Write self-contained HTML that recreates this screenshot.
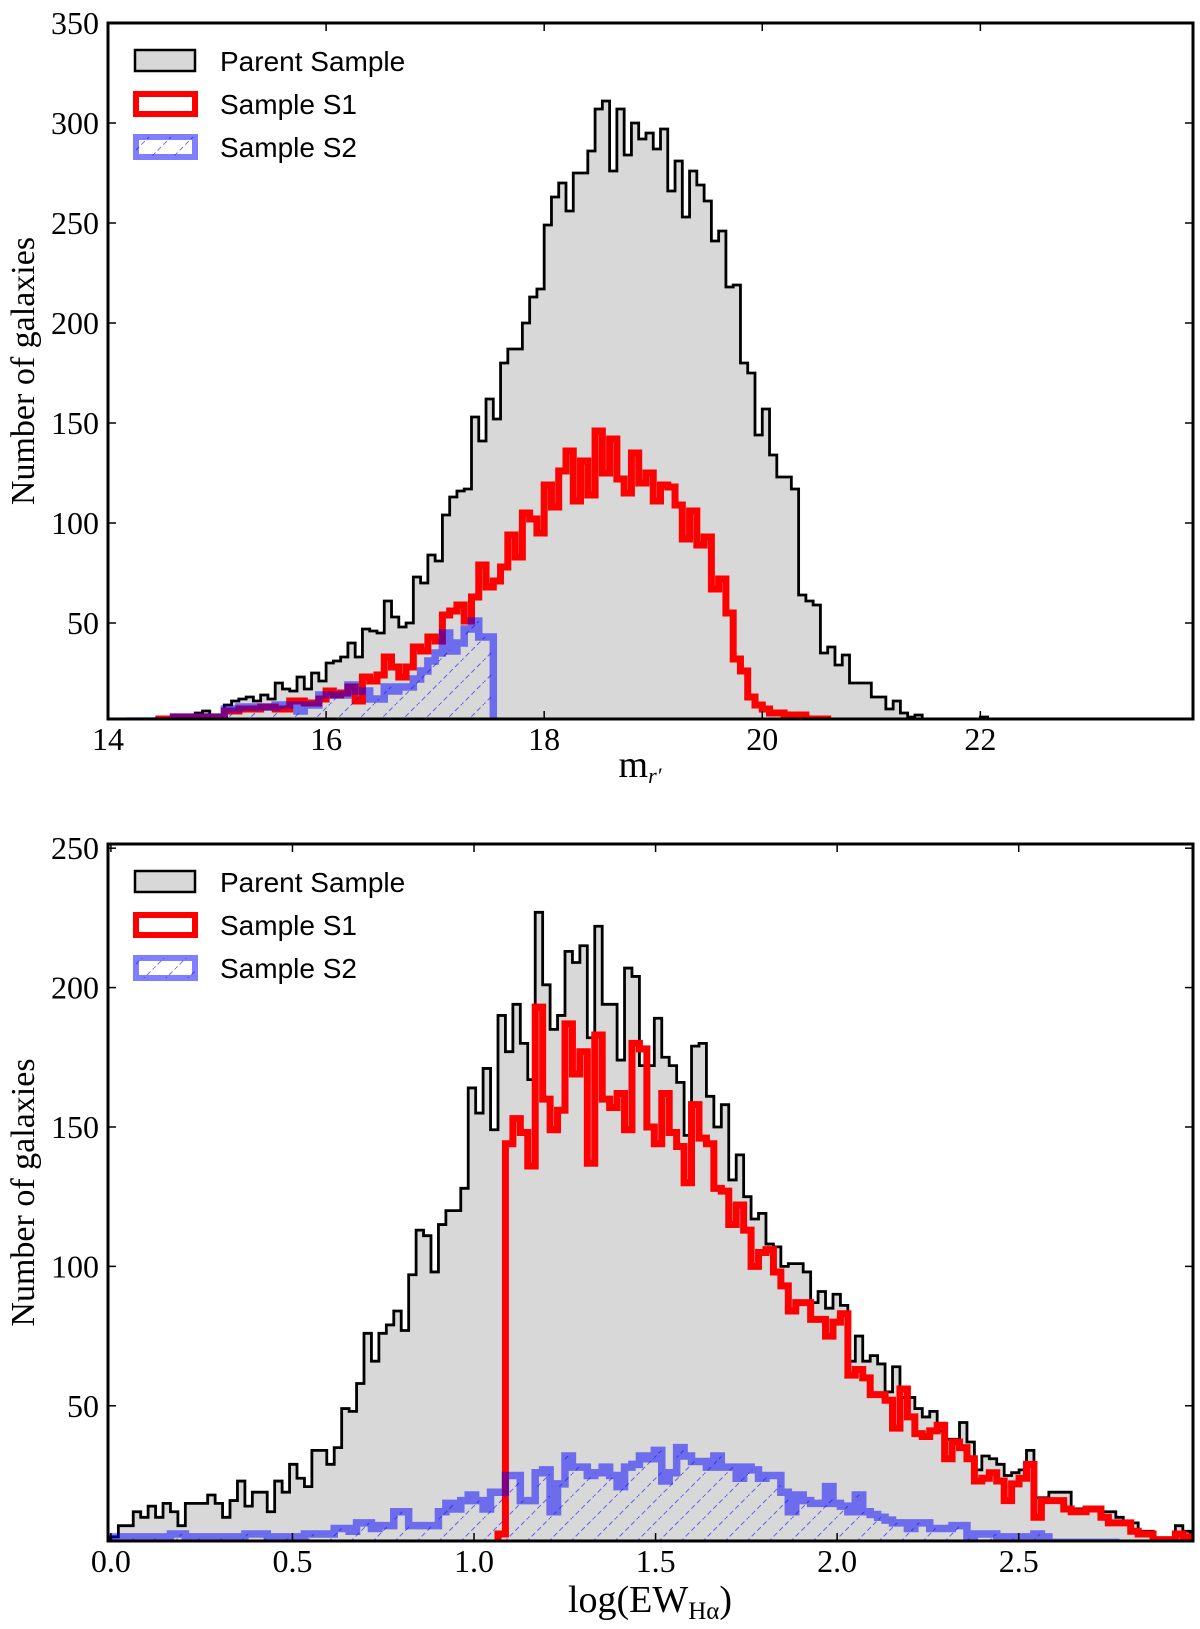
<!DOCTYPE html>
<html><head><meta charset="utf-8">
<style>
html,body{margin:0;padding:0;background:#fff;}
svg{display:block;}
</style></head>
<body>
<svg id="fig" width="1200" height="1629" viewBox="0 0 1200 1629" xmlns="http://www.w3.org/2000/svg">
<defs>
<pattern id="hatch" patternUnits="userSpaceOnUse" width="22" height="22">
<path d="M-2,24 L24,-2" stroke="rgba(0,0,255,0.55)" stroke-width="1" stroke-dasharray="5,3"/>
</pattern>
<clipPath id="clipTop"><rect x="108" y="23" width="1085" height="696"/></clipPath>
<clipPath id="clipBot"><rect x="108" y="844" width="1085" height="697"/></clipPath>
</defs>
<g id="top"></g>
<g id="bot"></g>
</svg>
<script>
// ---------- Top panel data (bins of width 1/15 mag starting at 14.0) ----------
const topBinStart = 14.0;
const topBinWidth = 1/15;
const topParent = [0,0,0,0,0,1,1,2,2,3,3,3,5,6,3,3,9,11,12,13,11,14,12,20,17,16,23,17,25,21,30,31,33,40,33,47,46,45,61,53,48,50,73,70,84,81,104,113,116,117,153,141,162,152,180,187,187,200,213,217,249,263,270,256,275,275,286,307,311,276,307,284,300,292,295,287,297,266,281,253,276,269,261,241,246,218,219,180,175,144,157,134,123,123,117,64,61,59,35,38,29,34,20,20,20,13,13,7,11,5,3,4,2,1,1,0,0,0,0,2,3,1,0,0,0,0,0,0,0,0,0,0,0,2,0];
const topS1 = [0,0,0,0,0,1,1,2,2,3,3,3,3,3,3,3,6,6,7,7,7,8,8,7,7,11,11,10,10,12,16,14,15,18,11,23,21,24,33,28,23,28,38,36,43,41,54,56,59,51,63,79,68,71,78,94,83,105,102,95,119,108,126,136,111,131,114,146,125,142,122,115,135,120,125,111,119,118,109,92,106,89,93,67,72,55,32,26,13,9,7,5,5,4,4,4,2,2,2,0];
const topS2 = [0,0,0,1,1,1,0,1,1,3,3,3,3,3,3,3,7,7,8,8,8,8,8,9,9,9,6,9,9,14,14,14,14,19,16,16,12,12,18,16,18,18,22,26,31,35,45,36,40,47,51,43,43];
const topYTicks = [50,100,150,200,250,300,350];
const topXTicks = [14,16,18,20,22];

// ---------- Bottom panel data (bins of width 0.0205 starting at 0.0) ----------
const botBinStart = 0.0;
const botBinWidth = 0.0205;
const botParent = [3,7,7,12,10,14,10,15,12,7,15,15,15,18,15,10,16,23,14,19,19,12,23,19,29,24,21,34,34,29,35,49,48,58,76,66,76,79,84,77,97,113,111,98,115,120,120,128,164,155,171,149,190,177,194,180,167,227,201,185,190,213,209,215,182,222,194,194,174,207,204,172,172,189,175,172,166,147,179,180,161,150,158,131,140,125,117,119,108,107,100,101,101,98,87,91,85,90,86,66,75,66,68,65,55,64,53,53,49,46,48,41,38,38,44,37,27,32,31,29,25,26,27,34,17,17,19,19,19,13,13,13,13,12,12,10,8,8,5,5,2,2,2,7,5];
const botS1 = [0,0,0,0,0,0,0,0,0,0,0,0,0,0,0,0,0,0,0,0,0,0,0,0,0,0,0,0,0,0,0,0,0,0,0,0,0,0,0,0,0,0,0,0,0,0,0,0,0,0,0,0,4,144,153,148,136,193,160,149,156,187,169,177,137,183,160,157,162,149,180,178,150,144,162,148,143,130,158,146,144,128,127,115,122,113,100,105,106,98,93,84,87,87,81,81,75,80,83,61,63,60,54,54,52,42,56,46,40,39,41,43,31,37,35,31,23,24,26,23,16,22,24,29,10,16,16,16,13,12,12,13,13,10,8,8,8,5,4,4,2,2,2,4,3];
const botS2 = [3,3,3,3,3,3,3,3,4,4,3,3,3,3,3,3,3,3,4,4,4,3,3,3,3,3,4,4,4,4,6,6,5,8,8,6,7,7,12,12,7,7,7,7,12,15,13,16,18,16,13,19,19,25,25,16,16,26,27,12,22,32,28,28,25,26,28,25,21,28,29,32,31,34,23,26,35,32,30,30,28,32,28,28,24,28,27,24,25,25,19,12,18,16,15,15,21,15,14,12,18,12,11,10,9,8,8,6,8,8,6,6,6,7,7,3,4,4,4,3,3,3,3,3,4,3,1,1,1,1,1,1,1,1,1,0,0,0,0,0,0,0,0,0,0];
const botYTicks = [50,100,150,200,250];
const botXTicks = [0.0,0.5,1.0,1.5,2.0,2.5];
const botXTickLabels = ["0.0","0.5","1.0","1.5","2.0","2.5"];

const NS = "http://www.w3.org/2000/svg";
function mk(tag, attrs, parent){
  const e = document.createElementNS(NS, tag);
  for (const k in attrs) e.setAttribute(k, attrs[k]);
  parent.appendChild(e);
  return e;
}
function linScale(d0,d1,r0,r1){ return v => r0 + (v-d0)/(d1-d0)*(r1-r0); }

function stepPath(vals, start, width, xs, ys, ymin){
  let first = -1, last = -1;
  for (let i=0;i<vals.length;i++){ if (vals[i]>0){ if(first<0) first=i; last=i; } }
  if (first<0) return "";
  let d = "M" + xs(start+first*width).toFixed(2) + "," + ys(ymin-5).toFixed(2);
  for (let i=first;i<=last;i++){
    const x0 = xs(start+i*width), x1 = xs(start+(i+1)*width), y = ys(vals[i]);
    d += " L" + x0.toFixed(2) + "," + y.toFixed(2) + " L" + x1.toFixed(2) + "," + y.toFixed(2);
  }
  d += " L" + xs(start+(last+1)*width).toFixed(2) + "," + ys(ymin-5).toFixed(2);
  return d;
}

function panel(g, cfg){
  const L=108, R=1193, T=cfg.top, B=cfg.bottom;
  const xs = linScale(cfg.xmin, cfg.xmax, L, R);
  const ys = linScale(cfg.ymin, cfg.ymax, B, T);
  const plot = mk("g", {"clip-path":"url(#"+cfg.clip+")"}, g);
  
  

  const pd = stepPath(cfg.parent, cfg.bs, cfg.bw, xs, ys, cfg.ymin);
  const pf = mk("path", {d: pd + " Z", fill:"#d8d8d8", stroke:"none"}, plot);
  
  
  const pl = mk("path", {d: pd, fill:"none", stroke:"#000", "stroke-width":"2.8", "stroke-linejoin":"miter"}, plot);
  
  

  const rd = stepPath(cfg.s1, cfg.bs, cfg.bw, xs, ys, cfg.ymin);
  const rl = mk("path", {d: rd, fill:"none", stroke:"#ff0000", "stroke-width":"7"}, plot);
  
  

  const bd = stepPath(cfg.s2, cfg.bs, cfg.bw, xs, ys, cfg.ymin);
  const bh = mk("path", {d: bd + " Z", fill:"url(#hatch)", stroke:"none"}, plot);
  
  
  const bl = mk("path", {d: bd, fill:"none", stroke:"rgba(0,0,255,0.5)", "stroke-width":"7.5"}, plot);
  
  

  const fr = mk("rect", {x:L, y:T, width:R-L, height:B-T, fill:"none", stroke:"#000", "stroke-width":"3"}, g);
  
  

  cfg.yticks.forEach(v => {
    const y = ys(v);
    const t1 = mk("line", {x1:L, x2:L+8, y1:y, y2:y, stroke:"#000", "stroke-width":"1.5"}, g);
    
    
    const t2 = mk("line", {x1:R-8, x2:R, y1:y, y2:y, stroke:"#000", "stroke-width":"1.5"}, g);
    
    
    const tx = mk("text", {x:L-9, y:y+11, "text-anchor":"end", "font-family":"'Liberation Serif', serif", "font-size":"32"}, g);
    tx.textContent = String(v);
    
    
  });
  cfg.xticks.forEach((v,i) => {
    const x = xs(v);
    const t1 = mk("line", {x1:x, x2:x, y1:B, y2:B-8, stroke:"#000", "stroke-width":"1.5"}, g);
    
    
    const t2 = mk("line", {x1:x, x2:x, y1:T, y2:T+8, stroke:"#000", "stroke-width":"1.5"}, g);
    
    
    const tx = mk("text", {x:x, y:B+31, "text-anchor":"middle", "font-family":"'Liberation Serif', serif", "font-size":"32"}, g);
    tx.textContent = cfg.xlabels ? cfg.xlabels[i] : String(v);
    
    
  });

  const cy = (T+B)/2;
  const yt = mk("text", {x:0, y:0, transform:"translate(34,"+cy+") rotate(-90)", "text-anchor":"middle", "font-family":"'Liberation Serif', serif", "font-size":"34"}, g);
  yt.textContent = "Number of galaxies";
  
  

  const lg = mk("g", {}, g);
  
  
  const o = T - 23;
  const r1 = mk("rect", {x:135, y:50+o, width:60, height:21, fill:"#d8d8d8", stroke:"#000", "stroke-width":"2.5"}, lg);
  
  
  const r2 = mk("rect", {x:136, y:94+o, width:59, height:20, fill:"#fff", stroke:"#ff0000", "stroke-width":"6"}, lg);
  
  
  const r3 = mk("rect", {x:136, y:137+o, width:59, height:20, fill:"url(#hatch)", stroke:"rgba(0,0,255,0.5)", "stroke-width":"6"}, lg);
  
  
  [["Parent Sample",71],["Sample S1",114],["Sample S2",157]].forEach(([s,y]) => {
    const t = mk("text", {x:220, y:y+o, "font-family":"'Liberation Sans', sans-serif", "font-size":"28"}, lg);
    t.textContent = s;
    
    
  });
  return {xs, ys};
}

const gt = document.getElementById("top");
panel(gt, {top:23, bottom:719, xmin:14, xmax:23.95, ymin:2, ymax:350, clip:"clipTop",
  parent:topParent, s1:topS1, s2:topS2, bs:topBinStart, bw:topBinWidth, yticks:topYTicks, xticks:topXTicks});
const gb = document.getElementById("bot");
panel(gb, {top:844, bottom:1541, xmin:-0.008, xmax:2.98, ymin:1.5, ymax:251.5, clip:"clipBot",
  parent:botParent, s1:botS1, s2:botS2, bs:botBinStart, bw:botBinWidth, yticks:botYTicks, xticks:botXTicks, xlabels:botXTickLabels});

const xt1 = mk("text", {x:640, y:777, "text-anchor":"middle", "font-family":"'Liberation Serif', serif", "font-size":"38"}, gt);


xt1.innerHTML = 'm<tspan font-size="22" font-style="italic" dy="6">r′</tspan>';
const xt2 = mk("text", {x:650, y:1612, "text-anchor":"middle", "font-family":"'Liberation Serif', serif", "font-size":"38"}, gb);


xt2.innerHTML = 'log(EW<tspan font-size="25" dy="7">Hα</tspan><tspan dy="-7">)</tspan>';
</script>
</body></html>
